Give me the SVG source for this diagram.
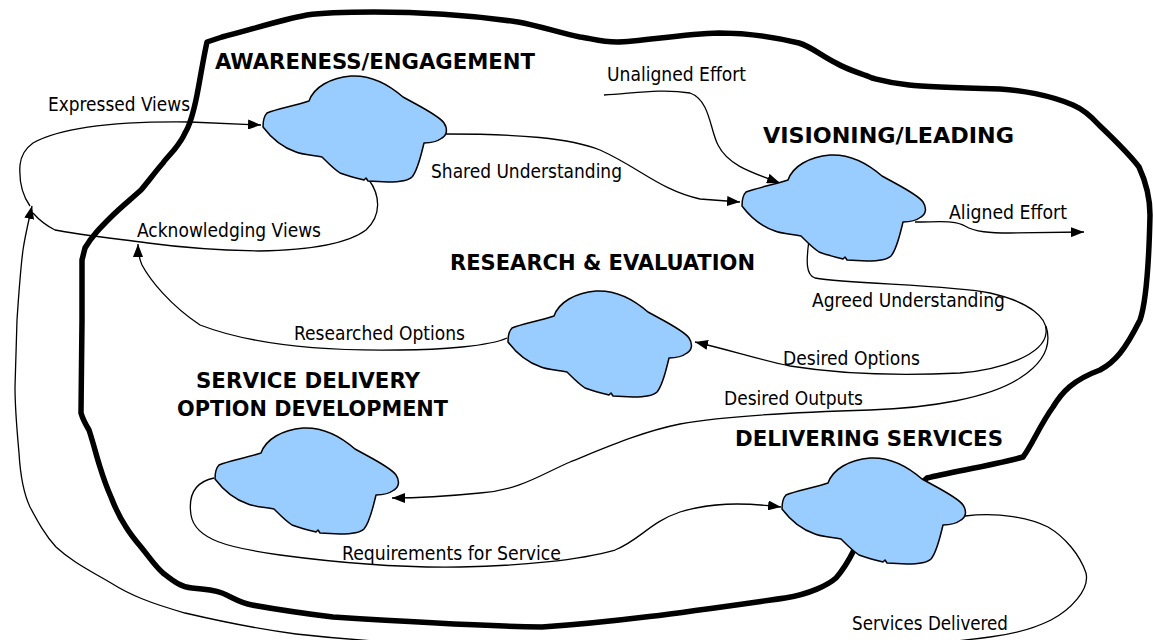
<svg xmlns="http://www.w3.org/2000/svg" width="1153" height="640" viewBox="0 0 1153 640">
<style>
.lbl{font-family:"DejaVu Sans Condensed","DejaVu Sans",sans-serif;font-stretch:condensed;font-size:19px;fill:#000}
.ttl{font-family:"DejaVu Sans Condensed","DejaVu Sans",sans-serif;font-stretch:condensed;font-size:22px;font-weight:bold;fill:#000}
.cloud{fill:#99CCFF;stroke:#000;stroke-width:1.5;stroke-linejoin:round}
.con{fill:none;stroke:#000;stroke-width:1.3}
.bnd{fill:none;stroke:#000;stroke-width:5.5;stroke-linejoin:round;stroke-linecap:round}
</style>
<defs>
<marker id="arr" viewBox="0 0 13 10" refX="13" refY="5" markerWidth="13" markerHeight="10" markerUnits="userSpaceOnUse" orient="auto">
<path d="M0,0 L13,5 L0,10 Z" fill="#000"/>
</marker>
<path id="cloud" d="M1,52 C1,46 2,41 5,38 C15,34 32,31 47,26 C52,12 68,3 89,1 C108,0 125,8 141,22 L152,28 C165,35 178,42 182,48 C186,54 185,60 180,63 C176,66 170,68 162,68 C159,80 156,95 150,102 C146,106 135,107 126,107 L106,106 L104,103 L102,105 C95,103 85,101 78,98 C72,94 68,90 62,84 L60,82 C48,80 38,79 34,77 C22,73 10,64 1,52 Z"/>
</defs>
<rect width="1153" height="640" fill="#fff"/>

<g id="boundary">
<path class="bnd" d="M 880,520 L 927,478 C 950,472 990,466 1023,457 C 1032,445 1040,425 1053,407 C 1062,392 1073,380 1100,370 C 1115,362 1125,350 1140,320 C 1147,300 1149,260 1150,215 C 1150,195 1145,180 1139,167 C 1130,155 1120,145 1099,125 C 1090,115 1080,108 1073,105 C 1050,95 1020,90 1000,89 C 960,88 925,87 909,85 C 890,83 880,80 872,78 C 860,73 848,70 836,63 C 820,55 812,47 799,43 C 770,36 745,33 719,33 C 680,34 640,42 617,42 C 600,42 590,38 580,37 C 560,33 540,26 518,22 C 470,15 420,12 374,12 C 340,12 320,13 307,15 C 280,20 250,30 222,37 L 207,42 C 203,60 200,80 197,95 C 194,110 190,125 185,133 C 182,140 178,145 174,150 C 168,157 165,160 163,163 C 155,172 148,182 141,190 C 130,200 120,208 111,217 C 100,228 92,236 85,248 L 82,260 L 82,320 L 81,413 C 83,420 86,425 89,430 C 94,445 96,455 100,467 C 104,480 107,488 111,497 C 116,510 120,518 126,527 C 131,535 135,540 141,547 C 150,558 155,566 163,573 C 172,580 180,587 192,588 C 205,589 214,590 222,593 C 232,597 240,603 252,605 C 280,610 300,613 333,617 C 380,620 480,626 542,627 C 620,622 700,610 785,598 C 810,594 828,585 836,578 C 843,570 849,560 854,550 L 880,520 Z"/>
</g>

<g id="connectors">
<path class="con" d="M 30,206 C 22,195 19,180 20,165 C 21,155 26,148 33,143 C 60,128 110,121 190,122 L 261,125" marker-end="url(#arr)"/>
<path class="con" d="M 369,180 C 380,195 382,215 366,230 C 350,242 320,250 259,251 C 210,250 170,246 148,243 C 110,238 75,234 55,230 C 47,226 40,221 33,213"/>
<path class="con" d="M 965,516 C 1000,512 1030,518 1048,527 C 1065,537 1080,555 1086,573 C 1090,590 1070,610 1051,620 C 1035,628 1015,634 990,637 C 960,641 930,644 900,645 L 500,646 C 420,645 350,640 296,634 C 250,628 215,620 185,613 C 150,603 130,595 111,583 C 85,568 70,560 56,547 C 45,535 38,522 30,507 C 22,490 20,470 19,453 C 17,430 15,410 15,387 L 17,320 C 19,290 21,265 23,250 C 25,236 28,224 32,206" marker-end="url(#arr)"/>
<path class="con" d="M 446,134 C 520,134 570,138 600,150 C 640,168 660,190 700,199 L 740,202" marker-end="url(#arr)"/>
<path class="con" d="M 604,95 C 630,94 660,88 690,93 C 710,100 710,130 718,145 C 728,165 750,172 780,183" marker-end="url(#arr)"/>
<path class="con" d="M 915,222 C 940,222 955,220 965,226 C 975,232 990,233 1010,233 L 1084,232" marker-end="url(#arr)"/>
<path class="con" d="M 809,240 C 806,262 806,275 815,278 C 850,284 950,285 990,293 C 1030,302 1048,318 1046,333 C 1044,355 1000,370 960,373 C 900,376 840,374 790,366 C 760,360 730,350 695,342" marker-end="url(#arr)"/>
<path class="con" d="M 1046,326 C 1052,345 1045,362 1020,378 C 990,398 930,408 870,410 C 800,412 730,415 680,424 C 640,432 600,450 570,462 C 540,475 520,490 480,493 C 450,496 420,498 392,498" marker-end="url(#arr)"/>
<path class="con" d="M 507,338 C 490,346 440,350 400,350 C 340,351 260,348 200,325 C 170,305 150,280 142,265 C 139,258 138,252 138,244" marker-end="url(#arr)"/>
<path class="con" d="M 214,478 C 195,482 188,495 191,515 C 195,540 230,548 280,555 C 340,563 400,568 460,567 C 520,566 580,560 615,550 C 640,540 650,522 680,512 C 710,503 740,502 781,507" marker-end="url(#arr)"/>
<text class="lbl" x="48" y="111" textLength="142" lengthAdjust="spacingAndGlyphs">Expressed Views</text>
<text class="lbl" x="137" y="237" textLength="184" lengthAdjust="spacingAndGlyphs">Acknowledging Views</text>
<text class="lbl" x="431" y="178" textLength="191" lengthAdjust="spacingAndGlyphs">Shared Understanding</text>
<text class="lbl" x="607" y="81" textLength="139" lengthAdjust="spacingAndGlyphs">Unaligned Effort</text>
<text class="lbl" x="949" y="219" textLength="118" lengthAdjust="spacingAndGlyphs">Aligned Effort</text>
<text class="lbl" x="812" y="307" textLength="193" lengthAdjust="spacingAndGlyphs">Agreed Understanding</text>
<text class="lbl" x="294" y="340" textLength="171" lengthAdjust="spacingAndGlyphs">Researched Options</text>
<text class="lbl" x="783" y="365" textLength="137" lengthAdjust="spacingAndGlyphs">Desired Options</text>
<text class="lbl" x="724" y="405" textLength="139" lengthAdjust="spacingAndGlyphs">Desired Outputs</text>
<text class="lbl" x="342" y="560" textLength="219" lengthAdjust="spacingAndGlyphs">Requirements for Service</text>
<text class="lbl" x="852" y="630" textLength="156" lengthAdjust="spacingAndGlyphs">Services Delivered</text>
</g>

<g id="awareness">
<use href="#cloud" class="cloud" x="262" y="75"/>
<text class="ttl" x="215" y="69" textLength="320" lengthAdjust="spacingAndGlyphs">AWARENESS/ENGAGEMENT</text>
</g>
<g id="visioning">
<use href="#cloud" class="cloud" x="741" y="154"/>
<text class="ttl" x="763" y="143" textLength="251" lengthAdjust="spacingAndGlyphs">VISIONING/LEADING</text>
</g>
<g id="research">
<use href="#cloud" class="cloud" x="507" y="290"/>
<text class="ttl" x="450" y="270" textLength="305" lengthAdjust="spacingAndGlyphs">RESEARCH &amp; EVALUATION</text>
</g>
<g id="sdod">
<use href="#cloud" class="cloud" x="214" y="427"/>
<text class="ttl" x="196" y="388" textLength="224" lengthAdjust="spacingAndGlyphs">SERVICE DELIVERY</text>
<text class="ttl" x="177" y="416" textLength="271" lengthAdjust="spacingAndGlyphs">OPTION DEVELOPMENT</text>
</g>
<g id="delivering">
<use href="#cloud" class="cloud" x="781" y="457"/>
<text class="ttl" x="735" y="446" textLength="268" lengthAdjust="spacingAndGlyphs">DELIVERING SERVICES</text>
</g>
</svg>
